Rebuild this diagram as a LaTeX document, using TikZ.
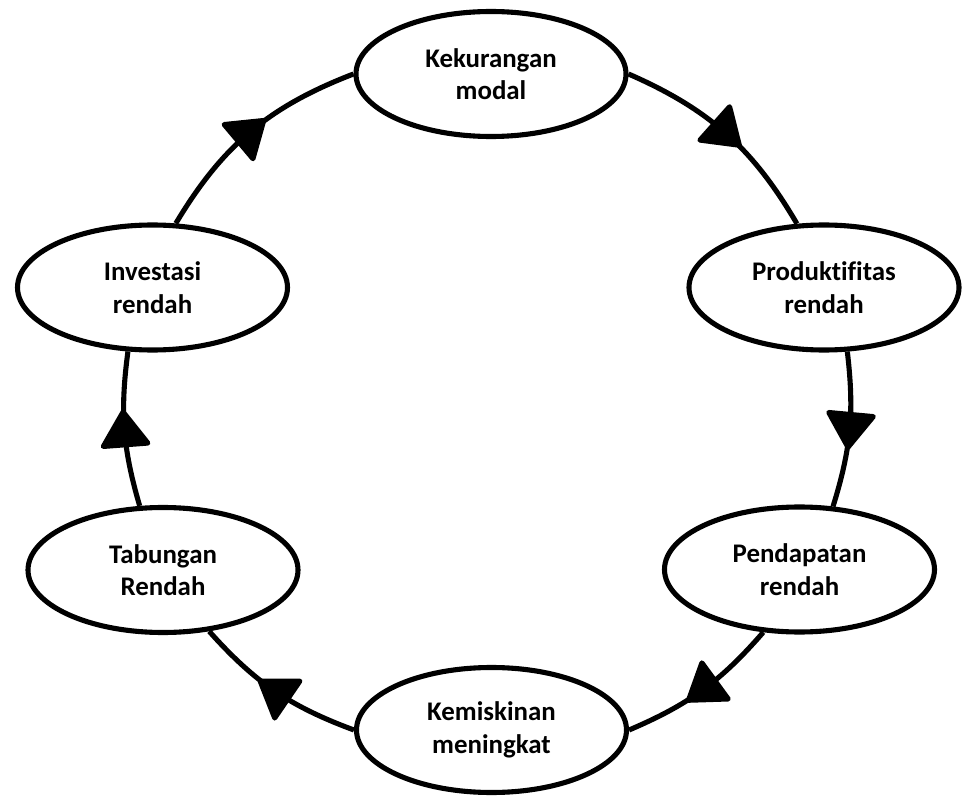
\documentclass[tikz,border=0pt]{standalone}
\usepackage{fontspec}
\setmainfont{Carlito}[Ligatures=NoCommon]
\usetikzlibrary{shapes.geometric,arrows.meta,decorations.markings}

\begin{document}
\begin{tikzpicture}[
  cyclebox/.style={ellipse,draw,line width=2.9pt,minimum width=5.4cm,minimum height=2.5cm,
    inner sep=0pt,align=center,font=\fontsize{15.3}{18.4}\selectfont\bfseries},
  cyclelink/.style={line width=2.9pt,postaction={decorate},
    decoration={markings,mark=at position 0.5 with {\arrow[xshift=4mm]{Triangle[length=8mm,width=10.6mm,round]}}}}
]
\useasboundingbox (0,0) rectangle (19.3,15.92);

% Stages of the cycle
\node[cyclebox] (kek) at (9.82,14.44) {Kekurangan\\modal};
\node[cyclebox] (prod) at (16.48,10.17) {Produktifitas\\rendah};
\node[cyclebox] (pend) at (15.99,4.53) {Pendapatan\\rendah};
\node[cyclebox] (kem) at (9.83,1.32) {Kemiskinan\\meningkat};
\node[cyclebox] (tab) at (3.26,4.52) {Tabungan\\Rendah};
\node[cyclebox] (inv) at (3.05,10.17) {Investasi\\rendah};

% Arrows round the circle
\draw[cyclelink] (inv.70) to[bend left=19] (kek.west);
\draw[cyclelink] (kek.east) to[bend left=18] (prod.113);
\draw[cyclelink] (prod.-70) to[bend left=12] (pend.62);
\draw[cyclelink] (pend.-120) to[bend left=13] (kem.east);
\draw[cyclelink] (kem.west) to[bend left=14] (tab.-53);
\draw[cyclelink] (tab.110) to[bend left=12] (inv.-111);
\end{tikzpicture}
\end{document}
